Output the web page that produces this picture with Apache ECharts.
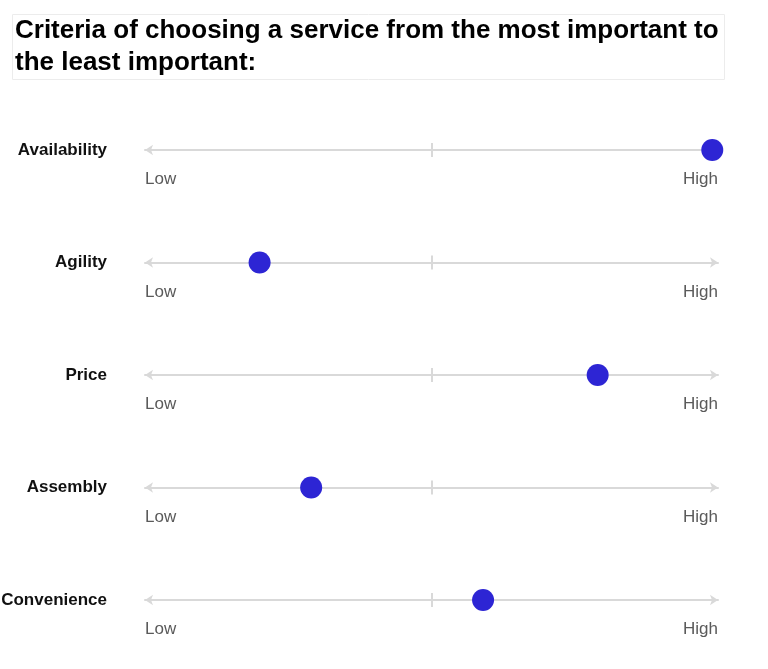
<!DOCTYPE html>
<html>
<head>
<meta charset="utf-8">
<script src="https://cdn.jsdelivr.net/npm/echarts@6/dist/echarts.min.js"></script>
<style>html,body{margin:0;padding:0;background:#fff}#c{width:768px;height:669px}</style>
</head>
<body>
<div id="c"></div>
<script>
const categories = ['Availability', 'Agility', 'Price', 'Assembly', 'Convenience'];
const scores = [99, 20, 79, 29, 59];
const scaleLabels = ['Low', 'High'];

const chart = echarts.init(document.getElementById('c'));
const grids = [], xAxes = [], yAxes = [], series = [];
const FONT = "'Liberation Sans', Arial, Helvetica, sans-serif";
categories.forEach((name, i) => {
  const cy = 150 + i * 112.5;
  grids.push({ left: 145, width: 573, top: cy - 7, height: 14, containLabel: false, outerBoundsMode: 'none' });
  xAxes.push({
    gridIndex: i, type: 'value', min: 0, max: 100, interval: 50,
    axisLine: { onZero: true, symbol: ['arrow', 'arrow'], symbolSize: [8, 8],
      lineStyle: { color: '#d9d9d9', width: 2 } },
    axisTick: { show: false }, splitLine: { show: false },
    axisLabel: {
      margin: 14, fontSize: 17, color: '#5a5a5a', fontFamily: FONT,
      showMinLabel: true, showMaxLabel: true,
      alignMinLabel: 'left', alignMaxLabel: 'right',
      formatter: v => v === 0 ? scaleLabels[0] : (v === 100 ? scaleLabels[1] : '')
    }
  });
  yAxes.push({
    gridIndex: i, type: 'value', min: -1, max: 1, interval: 1,
    axisLine: { show: false }, axisTick: { show: false }, splitLine: { show: false },
    axisLabel: {
      margin: 38, fontSize: 17, fontWeight: 'bold', color: '#111', fontFamily: FONT,
      formatter: v => v === 0 ? name : ''
    }
  });
  series.push({
    type: 'scatter', xAxisIndex: i, yAxisIndex: i,
    data: [[scores[i], 0]], symbolSize: 22, z: 5,
    itemStyle: { color: '#2d25d4', opacity: 1 },
    markLine: {
      silent: true, symbol: 'none', label: { show: false },
      lineStyle: { color: '#d9d9d9', width: 2, type: 'solid' },
      data: [{ xAxis: 50 }]
    }
  });
});

chart.setOption({
  animation: false,
  title: {
    text: 'Criteria of choosing a service from the most important to\nthe least important:',
    left: 12, top: 14, padding: [1, 6, 1, 3],
    borderColor: '#ececec', borderWidth: 1,
    textStyle: { fontSize: 26, fontWeight: 'bold', color: '#000', lineHeight: 32, fontFamily: FONT }
  },
  grid: grids, xAxis: xAxes, yAxis: yAxes, series: series
});
</script>
</body>
</html>
